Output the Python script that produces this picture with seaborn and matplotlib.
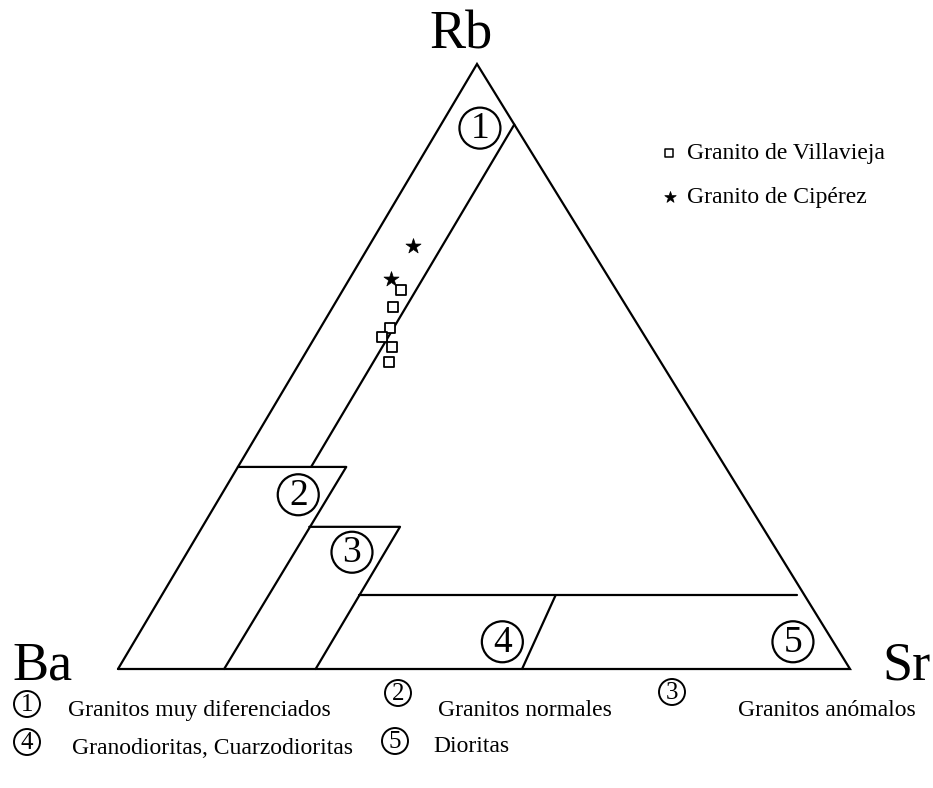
import numpy as np
import pandas as pd
import matplotlib
matplotlib.use("Agg")
import matplotlib.pyplot as plt
from matplotlib.patches import Circle
import seaborn as sns

# Sample compositions (Rb, Ba, Sr in %)
villavieja_rb = [62.6, 59.9, 56.3, 54.8, 53.3, 50.7]
villavieja_ba = [29.4, 31.9, 34.1, 36.0, 35.4, 37.1]
villavieja_sr = [8.0, 8.2, 9.6, 9.2, 11.3, 12.2]

ciperez_rb = [69.9, 64.4]
ciperez_ba = [24.1, 29.9]
ciperez_sr = [6.0, 5.7]

group_names = ["Granito de Villavieja", "Granito de Cipérez"]

# Field boundaries as (Rb %, Sr %) pairs
field_lines = [
    [(90.0, 10.0), (33.4, 10.0)],                 # field 1 limit
    [(33.4, 0.0), (33.4, 14.8), (0.0, 14.5)],     # field 2
    [(23.5, 14.6), (23.5, 27.0), (0.0, 27.0)],    # field 3
    [(12.2, 27.0), (12.2, 86.8)],                 # fields 4 / 5 top
    [(12.2, 53.8), (0.0, 55.2)],                  # field 4 / 5 limit
]

# Field number positions (Rb %, Sr %)
field_ids = ["1", "2", "3", "4", "5"]
field_rb = [89.4, 28.8, 19.3, 4.5, 4.5]
field_sr = [5.6, 10.5, 22.5, 50.3, 90.0]

legend_ids = ["1", "2", "3", "4", "5"]
legend_texts = ["Granitos muy diferenciados", "Granitos normales", "Granitos anómalos",
                "Granodioritas, Cuarzodioritas", "Dioritas"]

# Triangle corners in drawing units
BA = np.array([118.0, 669.0])
SR = np.array([850.0, 669.0])
RB = np.array([477.0, 64.0])


def tern(rb, sr):
    rb = np.asarray(rb, dtype=float) / 100.0
    sr = np.asarray(sr, dtype=float) / 100.0
    x = BA[0] + sr * (SR[0] - BA[0]) + rb * (RB[0] - BA[0])
    y = BA[1] + sr * (SR[1] - BA[1]) + rb * (RB[1] - BA[1])
    return x, y


sns.set_theme(style="white")
plt.rcParams["font.family"] = ["Liberation Serif", "DejaVu Serif"]

fig = plt.figure(figsize=(9.33, 7.88), dpi=100)
ax = fig.add_axes([0, 0, 1, 1])
ax.set_xlim(0, 933)
ax.set_ylim(788, 0)
ax.axis("off")

lw = 1.6
# outer triangle
tx, ty = tern([0, 0, 100, 0], [0, 100, 0, 0])
ax.plot(tx, ty, color="black", lw=lw, solid_joinstyle="miter")

for seg in field_lines:
    r = [p[0] for p in seg]
    s = [p[1] for p in seg]
    x, y = tern(r, s)
    ax.plot(x, y, color="black", lw=lw)

# circled field numbers
fx, fy = tern(field_rb, field_sr)
for lab, x, y in zip(field_ids, fx, fy):
    ax.add_patch(Circle((x, y), 20.5, fill=False, ec="black", lw=1.6))
    ax.text(x, y + 1, lab, ha="center", va="center", fontsize=27, color="black")

# samples
vx, vy = tern(villavieja_rb, villavieja_sr)
cx, cy = tern(ciperez_rb, ciperez_sr)
df = pd.DataFrame({
    "x": np.concatenate([vx, cx]),
    "y": np.concatenate([vy, cy]),
    "grupo": [group_names[0]] * len(vx) + [group_names[1]] * len(cx),
})
sq_style = dict(marker="s", s=60, facecolor="white", edgecolor="black", linewidth=1.3)
st_style = dict(marker="*", s=130, color="black", edgecolor="black", linewidth=0.5)
sns.scatterplot(data=df[df.grupo == group_names[0]], x="x", y="y", ax=ax,
                legend=False, zorder=5, **sq_style)
sns.scatterplot(data=df[df.grupo == group_names[1]], x="x", y="y", ax=ax,
                legend=False, zorder=5, **st_style)
ax.set_xlabel("")
ax.set_ylabel("")

# symbol key
key_sq = dict(sq_style, s=34, linewidth=1.1)
key_st = dict(st_style, s=75)
ax.scatter([669], [153], **key_sq)
ax.scatter([670], [197], **key_st)
ax.text(687, 153, group_names[0], fontsize=17, ha="left", va="center", color="black")
ax.text(687, 197, group_names[1], fontsize=17, ha="left", va="center", color="black")

# vertex labels
ax.text(461, 48, "Rb", fontsize=39, ha="center", va="baseline", color="black")
ax.text(12, 680, "Ba", fontsize=39, ha="left", va="baseline", color="black")
ax.text(882, 680, "Sr", fontsize=39, ha="left", va="baseline", color="black")

# key of fields
key_pos = [(27, 704, 68, 716), (398, 693, 438, 716), (672, 692, 738, 716),
           (27, 742, 72, 754), (395, 741, 433, 752)]
for (cxp, cyp, txp, typ), lab, txt in zip(key_pos, legend_ids, legend_texts):
    ax.add_patch(Circle((cxp, cyp), 13, fill=False, ec="black", lw=1.4))
    ax.text(cxp, cyp + 1, lab, ha="center", va="center", fontsize=18, color="black")
    ax.text(txp, typ, txt, ha="left", va="baseline", fontsize=17, color="black")

fig.savefig("out.png", dpi=100, facecolor="white")
